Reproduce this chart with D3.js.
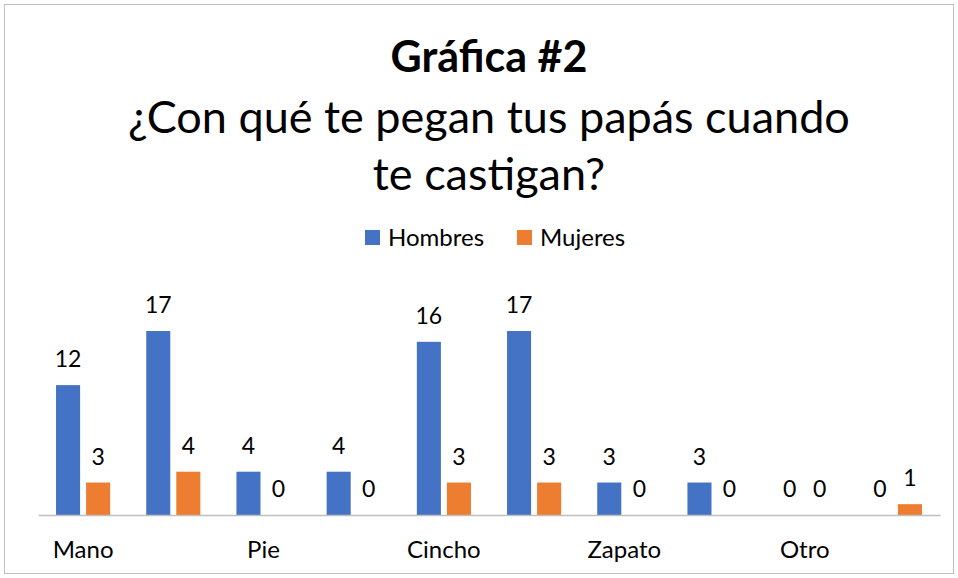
<!DOCTYPE html>
<html>
<head>
<meta charset="utf-8">
<script src="https://cdn.jsdelivr.net/npm/d3@7"></script>
<style>
  body { margin: 0; background: #fff; }
  svg text { font-family: Lato, "Open Sans", sans-serif; fill: #000; }
</style>
</head>
<body>
<div id="chart"></div>
<script>
// chart data
let tickLabels = ["Mano", "", "Pie", "", "Cincho", "", "Zapato", "", "Otro", ""];
let hombres = [12, 17, 4, 4, 16, 17, 3, 3, 0, 0];
let mujeres = [3, 4, 0, 0, 3, 3, 0, 0, 0, 1];
let seriesNames = ["Hombres", "Mujeres"];
let seriesColors = ["#4472C4", "#ED7D31"];

let svgWidth = 958;
let svgHeight = 578;

let chartMargin = { top: 0, right: 18, bottom: 63, left: 38 };
let chartWidth = svgWidth - chartMargin.left - chartMargin.right;
let baseY = 515;

let svg = d3.select("#chart")
  .append("svg")
  .attr("width", svgWidth)
  .attr("height", svgHeight);

// outer border
svg.append("rect")
  .attr("x", 4.5).attr("y", 4.5)
  .attr("width", svgWidth - 9).attr("height", svgHeight - 9)
  .attr("fill", "none")
  .attr("stroke", "#BFBFBF");

// titles
svg.append("text")
  .attr("x", 489).attr("y", 72)
  .attr("text-anchor", "middle")
  .attr("font-size", 43)
  .attr("font-weight", "bold")
  .text("Gráfica #2");

svg.append("text")
  .attr("x", 489).attr("y", 133)
  .attr("text-anchor", "middle")
  .attr("font-size", 45)
  .text("¿Con qué te pegan tus papás cuando");

svg.append("text")
  .attr("x", 489).attr("y", 190)
  .attr("text-anchor", "middle")
  .attr("font-size", 45)
  .text("te castigan?");

// legend
let legendX = [365, 517];
seriesNames.forEach((name, i) => {
  let g = svg.append("g").attr("transform", `translate(${legendX[i]}, 230)`);
  g.append("rect").attr("width", 15).attr("height", 15).attr("fill", seriesColors[i]);
  g.append("text").attr("x", 23).attr("y", 16).attr("font-size", 24).text(name);
});

let groups = d3.range(tickLabels.length);

let x0 = d3.scaleBand()
  .domain(groups)
  .range([chartMargin.left, chartMargin.left + chartWidth])
  .paddingInner(0.4)
  .paddingOuter(0.2);

let x1 = d3.scaleBand()
  .domain(seriesNames)
  .range([0, x0.bandwidth()])
  .paddingInner(0.2);

let y = d3.scaleLinear()
  .domain([0, 17])
  .range([baseY, 331]);

let rows = groups.map(i => ({ idx: i, values: [hombres[i], mujeres[i]] }));

let chartGroup = svg.append("g");

let grp = chartGroup.selectAll("g.grp")
  .data(rows)
  .enter()
  .append("g")
  .attr("class", "grp")
  .attr("transform", d => `translate(${x0(d.idx)},0)`);

grp.selectAll("rect")
  .data(d => d.values.map((v, j) => ({ name: seriesNames[j], v: v, color: seriesColors[j] })))
  .enter()
  .append("rect")
  .attr("x", d => x1(d.name))
  .attr("width", x1.bandwidth())
  .attr("y", d => y(d.v))
  .attr("height", d => baseY - y(d.v))
  .attr("fill", d => d.color);

grp.selectAll("text")
  .data(d => d.values.map((v, j) => ({ name: seriesNames[j], v: v })))
  .enter()
  .append("text")
  .attr("x", d => x1(d.name) + x1.bandwidth() / 2)
  .attr("y", d => y(d.v) - 18)
  .attr("text-anchor", "middle")
  .attr("font-size", 23)
  .text(d => d.v);

// x axis
let bottomAxis = d3.axisBottom(x0)
  .tickSize(0)
  .tickPadding(26)
  .tickFormat(i => tickLabels[i]);

let axisG = chartGroup.append("g")
  .attr("transform", `translate(0, ${baseY})`)
  .call(bottomAxis);
axisG.select(".domain").attr("stroke", "#BFBFBF").attr("stroke-width", 1.5);
axisG.selectAll("text")
  .attr("font-size", 24)
  .attr("font-family", "Lato, 'Open Sans', sans-serif")
  .attr("fill", "#000");
</script>
</body>
</html>
